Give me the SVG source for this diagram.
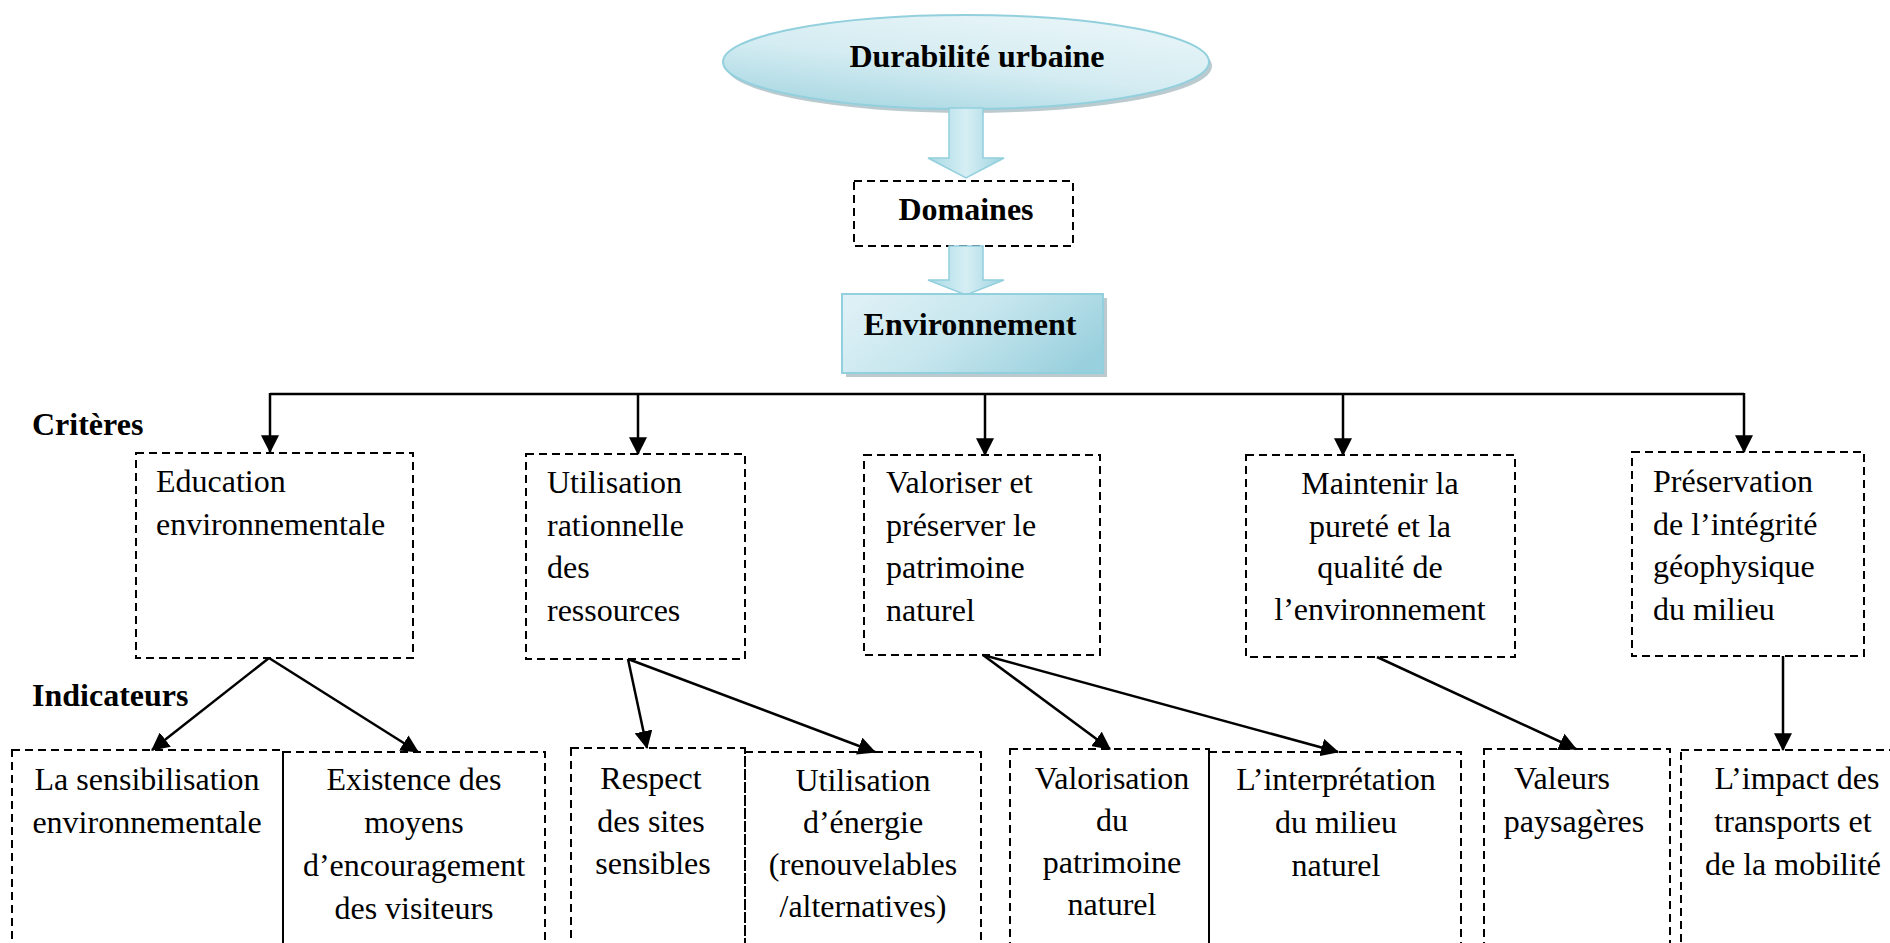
<svg xmlns="http://www.w3.org/2000/svg" width="1890" height="943" viewBox="0 0 1890 943">
<style>
text{font-family:"Liberation Serif","Times New Roman",serif;font-size:32px;fill:#000}
.b{font-weight:bold}
.c{text-anchor:middle}
.box{fill:none;stroke:#000;stroke-width:2;stroke-dasharray:8 5}
.ln{fill:none;stroke:#000;stroke-width:2.5}
.arr{marker-end:url(#ah)}
.blk{stroke:#93d0dd;stroke-width:1.5;fill:url(#ga)}
</style>
<defs>
<marker id="ah" markerUnits="userSpaceOnUse" markerWidth="18" markerHeight="18" viewBox="0 0 16 16" refX="15" refY="8" orient="auto">
<path d="M0,0 L16,8 L0,16 Z" fill="#000"/>
</marker>
<linearGradient id="ge" x1="0" y1="1" x2="0.6" y2="0">
<stop offset="0" stop-color="#9fd3df"/>
<stop offset="0.55" stop-color="#d4ecf2"/>
<stop offset="1" stop-color="#e6f4f7"/>
</linearGradient>
<linearGradient id="gb" x1="0" y1="0.3" x2="1" y2="0.7">
<stop offset="0" stop-color="#dcf0f5"/>
<stop offset="0.45" stop-color="#c6e6ee"/>
<stop offset="1" stop-color="#99d0dd"/>
</linearGradient>
<linearGradient id="ga" x1="0" y1="0" x2="1" y2="0">
<stop offset="0" stop-color="#a7d9e4"/>
<stop offset="0.5" stop-color="#d6eef4"/>
<stop offset="1" stop-color="#9dd3df"/>
</linearGradient>
</defs>

<g id="durabilite">
<ellipse cx="969" cy="66" rx="243" ry="47" fill="#9eb3bb" opacity="0.7"/>
<ellipse cx="966" cy="62" rx="243" ry="47" fill="url(#ge)" stroke="#93d0dd" stroke-width="2"/>
<text class="b c" x="977" y="67">Durabilité urbaine</text>
</g>

<g id="fleche1">
<polygon class="blk" points="949,108 983,108 983,158 1004,158 966,178 928,158 949,158"/>
</g>

<g id="domaines">
<rect class="box" x="854" y="181" width="219" height="65"/>
<text class="b c" x="966" y="220">Domaines</text>
</g>

<g id="fleche2">
<polygon class="blk" points="949,246 983,246 983,280 1004,280 966,295 928,280 949,280"/>
</g>

<g id="environnement">
<rect x="846" y="298" width="261" height="79" fill="#9eb3bb" opacity="0.7"/>
<rect x="842" y="294" width="261" height="79" fill="url(#gb)" stroke="#93d0dd" stroke-width="2"/>
<text class="b c" x="970" y="335">Environnement</text>
</g>

<g id="labels">
<text class="b" x="32" y="435">Critères</text>
<text class="b" x="32" y="706">Indicateurs</text>
</g>

<g id="critere1">
<rect class="box" x="136" y="453" width="277" height="205"/>
<text x="156" y="492">Education</text>
<text x="156" y="535">environnementale</text>
</g>
<g id="critere2">
<rect class="box" x="526" y="454" width="219" height="205"/>
<text x="547" y="493">Utilisation</text>
<text x="547" y="536">rationnelle</text>
<text x="547" y="578">des</text>
<text x="547" y="621">ressources</text>
</g>
<g id="critere3">
<rect class="box" x="864" y="455" width="236" height="200"/>
<text x="886" y="493">Valoriser et</text>
<text x="886" y="536">préserver le</text>
<text x="886" y="578">patrimoine</text>
<text x="886" y="621">naturel</text>
</g>
<g id="critere4">
<rect class="box" x="1246" y="455" width="269" height="202"/>
<text class="c" x="1380" y="494">Maintenir la</text>
<text class="c" x="1380" y="537">pureté et la</text>
<text class="c" x="1380" y="578">qualité de</text>
<text class="c" x="1380" y="620">l’environnement</text>
</g>
<g id="critere5">
<rect class="box" x="1632" y="452" width="232" height="204"/>
<text x="1653" y="492">Préservation</text>
<text x="1653" y="535">de l’intégrité</text>
<text x="1653" y="577">géophysique</text>
<text x="1653" y="620">du milieu</text>
</g>

<g id="indicateur1">
<rect class="box" x="12" y="750" width="271" height="220"/>
<text class="c" x="147" y="790">La sensibilisation</text>
<text class="c" x="147" y="833">environnementale</text>
</g>
<g id="indicateur2">
<rect class="box" x="283" y="752" width="262" height="220"/>
<text class="c" x="414" y="790">Existence des</text>
<text class="c" x="414" y="833">moyens</text>
<text class="c" x="414" y="876">d’encouragement</text>
<text class="c" x="414" y="919">des visiteurs</text>
</g>
<g id="indicateur3">
<rect class="box" x="571" y="748" width="174" height="220"/>
<text class="c" x="651" y="789">Respect</text>
<text class="c" x="651" y="832">des sites</text>
<text class="c" x="653" y="874">sensibles</text>
</g>
<g id="indicateur4">
<rect class="box" x="745" y="752" width="236" height="220"/>
<text class="c" x="863" y="791">Utilisation</text>
<text class="c" x="863" y="833">d’énergie</text>
<text class="c" x="863" y="875">(renouvelables</text>
<text class="c" x="863" y="917">/alternatives)</text>
</g>
<g id="indicateur5">
<rect class="box" x="1010" y="749" width="199" height="220"/>
<text class="c" x="1112" y="789">Valorisation</text>
<text class="c" x="1112" y="831">du</text>
<text class="c" x="1112" y="873">patrimoine</text>
<text class="c" x="1112" y="915">naturel</text>
</g>
<g id="indicateur6">
<rect class="box" x="1209" y="752" width="252" height="220"/>
<text class="c" x="1336" y="790">L’interprétation</text>
<text class="c" x="1336" y="833">du milieu</text>
<text class="c" x="1336" y="876">naturel</text>
</g>
<g id="indicateur7">
<rect class="box" x="1484" y="749" width="186" height="220"/>
<text class="c" x="1562" y="789">Valeurs</text>
<text class="c" x="1574" y="832">paysagères</text>
</g>
<g id="indicateur8">
<rect class="box" x="1681" y="750" width="240" height="220"/>
<text class="c" x="1797" y="789">L’impact des</text>
<text class="c" x="1793" y="832">transports et</text>
<text class="c" x="1793" y="875">de la mobilité</text>
</g>

<g id="connecteurs">
<path class="ln" d="M270,394 H1744"/>
<path class="ln arr" d="M270,393 V452"/>
<path class="ln arr" d="M638,394 V454"/>
<path class="ln arr" d="M985,394 V455"/>
<path class="ln arr" d="M1343,394 V455"/>
<path class="ln arr" d="M1744,393 V452"/>
<path class="ln arr" d="M269,658 L152,750"/>
<path class="ln arr" d="M269,658 L418,752"/>
<path class="ln arr" d="M628,659 L647,748"/>
<path class="ln arr" d="M628,659 L875,752"/>
<path class="ln arr" d="M983,655 L1110,749"/>
<path class="ln arr" d="M983,655 L1338,752"/>
<path class="ln arr" d="M1377,657 L1576,749"/>
<path class="ln arr" d="M1783,656 V750"/>
</g>
</svg>
